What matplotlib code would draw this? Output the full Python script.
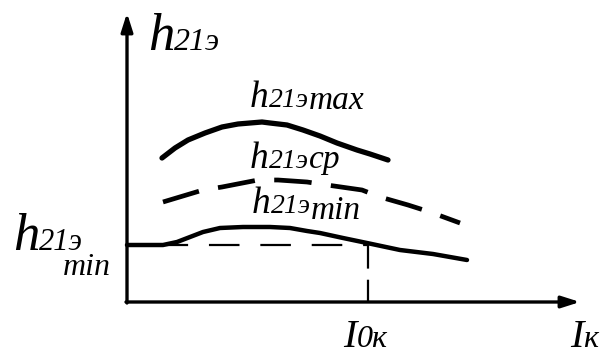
import matplotlib.pyplot as plt

# h21e vs collector current, qualitative spread curves
max_x = [35, 48, 61, 78, 95, 111, 135, 143, 160, 176, 193, 210, 230, 243, 261]
max_y = [144, 154, 162, 169, 175, 178, 180, 179, 177, 172, 166, 159, 152, 148, 142]
cp_x = [36, 76, 95, 131, 151, 180, 200, 235, 253, 281, 303, 333]
cp_y = [100, 112, 115, 122, 122, 120, 117, 112, 105, 97, 90, 79]
min_x = [0, 36, 50, 63, 76, 93, 116, 143, 163, 180, 193, 216, 240, 273, 306, 340]
min_y = [57, 57, 60, 65, 70, 74, 75, 75, 74, 71, 69, 64, 59, 52, 48, 42]
h_min = 57
i0k = 241
x_end, y_end = 453, 289

plt.rcParams['lines.scale_dashes'] = False
serif = ['Liberation Serif', 'DejaVu Serif']

fig = plt.figure(figsize=(6.04, 3.56), dpi=100)
ax = fig.add_axes([0, 0, 1, 1])
ax.set_xlim(-127, 477)
ax.set_ylim(-54, 302)
ax.axis('off')

# axes with arrows
arr = dict(arrowstyle='-|>,head_length=1.1,head_width=0.35', color='black',
           lw=2.4, shrinkA=0, shrinkB=0)
ax.annotate('', xy=(0, y_end), xytext=(0, -1), arrowprops=arr)
ax.annotate('', xy=(x_end, 0), xytext=(-1, 0), arrowprops=arr)

ax.plot(max_x, max_y, color='black', lw=3.8, solid_capstyle='round', solid_joinstyle='round')
ax.plot(cp_x, cp_y, color='black', lw=3.4, linestyle=(0, (27, 14)))
ax.plot(min_x, min_y, color='black', lw=3.2, solid_capstyle='round', solid_joinstyle='round')
ax.plot([0, i0k], [h_min, h_min], color='black', lw=1.6, linestyle=(-22, (22, 15)))
ax.plot([i0k, i0k], [h_min, 0], color='black', lw=1.6, linestyle=(0, (17, 8)))


def label(x, y, parts):
    # parts: list of (text, size, dy); each piece starts where the last ended
    fig.canvas.draw()
    r = fig.canvas.get_renderer()
    xp, yp = ax.transData.transform((x, y))
    for s, size, dy in parts:
        t = fig.text(xp / fig.dpi / fig.get_figwidth(),
                     (yp - dy) / fig.dpi / fig.get_figheight(),
                     s, fontsize=size, family=serif, style='italic',
                     ha='left', va='baseline')
        xp += t.get_window_extent(r).width


label(21, 252, [('h', 38, 0), ('21э', 23, 0)])
label(123, 195, [('h', 27, 0), ('21э', 20, 0), ('max', 24, 2)])
label(123, 134, [('h', 27, 0), ('21э', 20, 0), ('cp', 24, 0)])
label(125, 89, [('h', 27, 0), ('21э', 20, 0), ('min', 24, 6)])
label(-114, 52, [('h', 38, 0), ('21э', 22, 0)])
label(-64, 27, [('min', 23, 0)])
label(216, -45, [('I', 29, 0), ('0к', 23, 0)])
label(443, -45, [('I', 29, 0), ('к', 23, 0)])

fig.savefig('out.png', dpi=100)
